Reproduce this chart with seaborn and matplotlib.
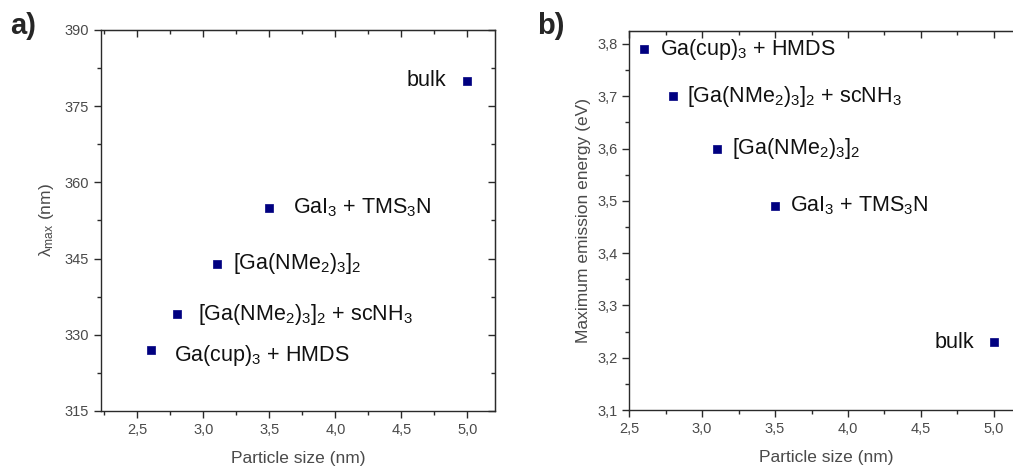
'''two-panel scatter: absorption maximum and emission energy vs particle size'''
import numpy as np
import pandas as pd
import seaborn as sns
import matplotlib
matplotlib.use('Agg')
import matplotlib.pyplot as plt
from matplotlib import ticker

#region data
particle_size = [2.6, 2.8, 3.1, 3.5, 5.0]
lambda_max = [327, 334, 344, 355, 380]
emission_energy = [3.79, 3.70, 3.60, 3.49, 3.23]
precursors = [r'Ga(cup)$_3$ + HMDS',
              r'[Ga(NMe$_2$)$_3$]$_2$ + scNH$_3$',
              r'[Ga(NMe$_2$)$_3$]$_2$',
              r'GaI$_3$ + TMS$_3$N',
              'bulk']
#endregion

sns.set_style('ticks')
plt.rcParams['font.family'] = ['Liberation Sans', 'DejaVu Sans']
plt.rcParams['mathtext.fontset'] = 'custom'
plt.rcParams['mathtext.rm'] = 'Liberation Sans'
plt.rcParams['mathtext.it'] = 'Liberation Sans:italic'
plt.rcParams['mathtext.default'] = 'regular'

GREY = '#4a4a4a'
NAVY = '#000080'

df = pd.DataFrame({'size': particle_size, 'lmax': lambda_max,
                   'energy': emission_energy, 'label': precursors})

fig = plt.figure(figsize=(10.13, 4.67), dpi=100)
ax_a = fig.add_axes([0.0997, 0.120, 0.389, 0.816])
ax_b = fig.add_axes([0.621, 0.122, 0.389, 0.812])


def comma(fmt):
    return ticker.FuncFormatter(lambda v, p: (fmt % v).replace('.', ','))


def style_axes(ax):
    for s in ax.spines.values():
        s.set_visible(True)
        s.set_color('#2a2a2a')
        s.set_linewidth(1.0)
    ax.tick_params(which='both', direction='out', colors='#2a2a2a',
                   labelcolor=GREY, labelsize=10.5, width=1.0)
    ax.tick_params(which='major', length=5)
    ax.tick_params(which='minor', length=3)
    ax.xaxis.set_minor_locator(ticker.AutoMinorLocator(2))
    ax.yaxis.set_minor_locator(ticker.AutoMinorLocator(2))
    # mirrored ticks pointing inward on top / right
    top = ax.secondary_xaxis('top')
    top.set_xticks(ax.get_xticks())
    top.xaxis.set_minor_locator(ticker.AutoMinorLocator(2))
    top.tick_params(which='both', direction='in', labeltop=False, colors='#2a2a2a', width=1.0)
    top.tick_params(which='major', length=5)
    top.tick_params(which='minor', length=3)
    right = ax.secondary_yaxis('right')
    right.set_yticks(ax.get_yticks())
    right.yaxis.set_minor_locator(ticker.AutoMinorLocator(2))
    right.tick_params(which='both', direction='in', labelright=False, colors='#2a2a2a', width=1.0)
    right.tick_params(which='major', length=5)
    right.tick_params(which='minor', length=3)
    ax.xaxis.label.set_color(GREY)
    ax.yaxis.label.set_color(GREY)


#region panel a
sns.scatterplot(data=df, x='size', y='lmax', marker='s', s=30, color=NAVY,
                edgecolor=NAVY, linewidth=0.5, ax=ax_a, legend=False)
ax_a.set_xlim(2.225, 5.21)
ax_a.set_ylim(315, 390)
ax_a.set_xticks(np.arange(2.5, 5.01, 0.5))
ax_a.set_yticks(np.arange(315, 391, 15))
ax_a.xaxis.set_major_formatter(comma('%.1f'))
ax_a.set_xlabel('Particle size (nm)', fontsize=12.5, labelpad=10)
ax_a.set_ylabel(r'$\lambda_{max}$ (nm)', fontsize=12.5, labelpad=6)
offsets_a = [(17, -4), (15, 0), (12, 0), (17, 0), (-15, 0)]
for (x, y, lab), (dx, dy) in zip(zip(particle_size, lambda_max, precursors), offsets_a):
    ax_a.annotate(lab, (x, y), xytext=(dx, dy), textcoords='offset points',
                  ha='left' if dx > 0 else 'right', va='center',
                  fontsize=15.5, color='#111111')
style_axes(ax_a)
#endregion

#region panel b
sns.scatterplot(data=df, x='size', y='energy', marker='s', s=30, color=NAVY,
                edgecolor=NAVY, linewidth=0.5, ax=ax_b, legend=False)
ax_b.set_xlim(2.5, 5.2)
ax_b.set_ylim(3.1, 3.825)
ax_b.set_xticks(np.arange(2.5, 5.01, 0.5))
ax_b.set_yticks(np.arange(3.1, 3.81, 0.1))
ax_b.xaxis.set_major_formatter(comma('%.1f'))
ax_b.yaxis.set_major_formatter(comma('%.1f'))
ax_b.set_xlabel('Particle size (nm)', fontsize=12.5, labelpad=10)
ax_b.set_ylabel('Maximum emission energy (eV)', fontsize=12.5)
offsets_b = [(12, 0), (10, 0), (11, 0), (11, 0), (-14, 0)]
for (x, y, lab), (dx, dy) in zip(zip(particle_size, emission_energy, precursors), offsets_b):
    ax_b.annotate(lab, (x, y), xytext=(dx, dy), textcoords='offset points',
                  ha='left' if dx > 0 else 'right', va='center',
                  fontsize=15.5, color='#111111')
style_axes(ax_b)
#endregion

fig.text(0.010, 0.927, 'a)', fontsize=21, fontweight='bold', va='baseline')
fig.text(0.530, 0.927, 'b)', fontsize=21, fontweight='bold', va='baseline')

plt.savefig('out.png', dpi=100)
